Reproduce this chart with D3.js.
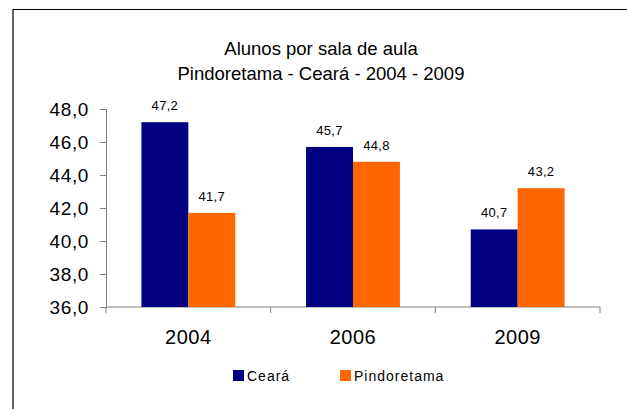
<!DOCTYPE html>
<html>
<head>
<meta charset="utf-8">
<script src="https://cdn.jsdelivr.net/npm/d3@7"></script>
<style>
  body { margin: 0; background: #fff; }
  text { font-family: "Liberation Sans", Arial, sans-serif; fill: #000; }
</style>
</head>
<body>
<div id="chart"></div>
<script>
const years = ["2004", "2006", "2009"];
const seriesNames = ["Ceará", "Pindoretama"];
const ceara = [47.2, 45.7, 40.7];
const pindoretama = [41.7, 44.8, 43.2];
const yTicks = [36, 38, 40, 42, 44, 46, 48];
const colors = ["#000080", "#ff6600"];

const W = 627, H = 409;
const margin = {top: 109, right: 27, bottom: 102, left: 106},
    width = W - margin.left - margin.right,
    height = H - margin.top - margin.bottom;

const svg = d3.select("#chart")
  .append("svg")
    .attr("width", W)
    .attr("height", H);

// frame (only top and left edges show in the picture)
svg.append("path")
  .attr("d", `M13,${H} L13,9.5 L${W},9.5`)
  .attr("fill", "none")
  .attr("stroke", "#000")
  .attr("stroke-width", 1.2);

// title
svg.append("text")
  .attr("x", 321).attr("y", 55)
  .attr("text-anchor", "middle")
  .style("font-size", "18.5px")
  .text("Alunos por sala de aula");
svg.append("text")
  .attr("x", 321).attr("y", 80)
  .attr("text-anchor", "middle")
  .style("font-size", "18.5px")
  .text("Pindoretama - Ceará - 2004 - 2009");

const g = svg.append("g")
  .attr("transform", `translate(${margin.left}, ${margin.top})`);

const x0 = d3.scaleBand()
  .domain(years)
  .range([0, width])
  .paddingInner(0.43)
  .paddingOuter(0.215);

const x1 = d3.scaleBand()
  .domain(seriesNames)
  .range([0, x0.bandwidth()]);

const y = d3.scaleLinear()
  .domain([36, 48])
  .range([height, 0]);

const fmt = v => d3.format(".1f")(v).replace(".", ",");

// y axis
const yAxis = g.append("g")
  .call(d3.axisLeft(y).tickValues(yTicks).tickSize(6).tickPadding(11).tickFormat(fmt));
yAxis.select(".domain").attr("stroke", "#808080");
yAxis.selectAll(".tick line").attr("stroke", "#808080");
yAxis.selectAll("text")
  .style("font-size", "19px")
  .style("letter-spacing", "0.6px")
  .attr("fill", "#000");

// x axis: ticks at category boundaries
const xAxisG = g.append("g").attr("transform", `translate(0, ${height})`);
xAxisG.append("line")
  .attr("x1", 0).attr("x2", width)
  .attr("stroke", "#808080");
xAxisG.selectAll(".sep")
  .data(d3.range(years.length + 1))
  .join("line")
  .attr("class", "sep")
  .attr("x1", i => i * width / years.length)
  .attr("x2", i => i * width / years.length)
  .attr("y1", 0).attr("y2", 6)
  .attr("stroke", "#808080");
xAxisG.selectAll(".cat")
  .data(years)
  .join("text")
  .attr("class", "cat")
  .attr("x", d => x0(d) + x0.bandwidth() / 2)
  .attr("y", 37)
  .attr("text-anchor", "middle")
  .style("font-size", "20px")
  .style("letter-spacing", "0.5px")
  .text(d => d);

const rows = years.map((yr, i) => ({year: yr, values: [ceara[i], pindoretama[i]]}));

const groups = g.selectAll(".grp")
  .data(rows)
  .join("g")
  .attr("class", "grp")
  .attr("transform", d => `translate(${x0(d.year)},0)`);

groups.selectAll("rect")
  .data(d => d.values.map((v, j) => ({name: seriesNames[j], v: v, j: j})))
  .join("rect")
  .attr("x", d => x1(d.name))
  .attr("y", d => y(d.v))
  .attr("width", x1.bandwidth())
  .attr("height", d => height - y(d.v))
  .attr("fill", d => colors[d.j]);

groups.selectAll(".lbl")
  .data(d => d.values.map((v, j) => ({name: seriesNames[j], v: v})))
  .join("text")
  .attr("class", "lbl")
  .attr("x", d => x1(d.name) + x1.bandwidth() / 2)
  .attr("y", d => y(d.v) - 12)
  .attr("text-anchor", "middle")
  .style("font-size", "13px")
  .style("letter-spacing", "0.3px")
  .text(d => fmt(d.v));

// legend
const legendX = [233, 340];
const legend = svg.selectAll(".leg")
  .data(seriesNames)
  .join("g")
  .attr("class", "leg")
  .attr("transform", (d, i) => `translate(${legendX[i]}, 370)`);
legend.append("rect")
  .attr("width", 11).attr("height", 11)
  .attr("fill", (d, i) => colors[i]);
legend.append("text")
  .attr("x", 14).attr("y", 10.5)
  .style("font-size", "14px")
  .style("letter-spacing", "1px")
  .text(d => d);
</script>
</body>
</html>
